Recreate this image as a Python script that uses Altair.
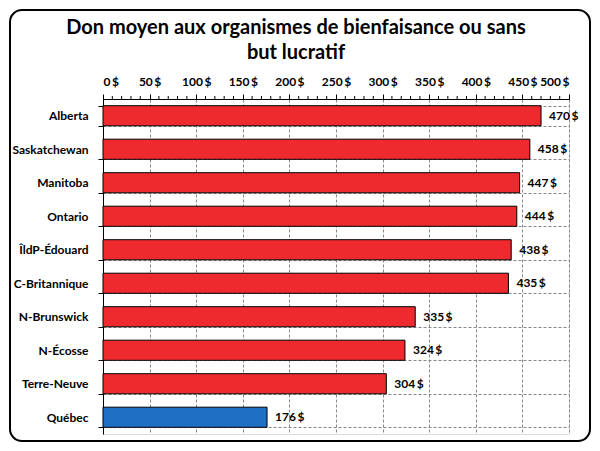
import altair as alt
import pandas as pd

provinces = ["Alberta", "Saskatchewan", "Manitoba", "Ontario", "ÎldP-Édouard",
             "C-Britannique", "N-Brunswick", "N-Écosse", "Terre-Neuve", "Québec"]
values = [470, 458, 447, 444, 438, 435, 335, 324, 304, 176]
highlight = ["other"] * 9 + ["qc"]
title_lines = ["Don moyen aux organismes de bienfaisance ou sans", "but lucratif"]

NS = "\u2009"
df = pd.DataFrame({"prov": provinces, "val": values, "grp": highlight,
                   "lab": [f"{v}{NS}$" for v in values]})

W, H = 466, 335
FONT = "Lato"

yenc = alt.Y("prov:N", sort=provinces, title=None,
             scale=alt.Scale(paddingInner=0.4, paddingOuter=0.2),
             axis=alt.Axis(tickBand="extent", labelFont=FONT, labelFontWeight="bold",
                           labelFontSize=12, labelColor="black", labelPadding=10,
                           tickSize=5, tickColor="black", domainColor="black",
                           gridDash=[3, 2], gridColor="#888888", grid=True))
xenc = alt.X("val:Q", title=None,
             scale=alt.Scale(domain=[0, 500], nice=False),
             axis=alt.Axis(orient="top", values=list(range(0, 501, 50)),
                           labelExpr="datum.value + '\u2009$'", labelFont=FONT,
                           labelFontWeight="bold", labelFontSize=12, labelColor="black",
                           labelPadding=6, tickSize=5, tickColor="black", labelOverlap=False,
                           domainColor="black", gridDash=[3, 2], gridColor="#888888"))

bars = alt.Chart(df).mark_bar(stroke="black", strokeWidth=1).encode(
    x=xenc, y=yenc,
    color=alt.Color("grp:N", scale=alt.Scale(domain=["other", "qc"],
                                              range=["#EE2A2E", "#1F6FC5"]), legend=None))

minor = alt.Chart(pd.DataFrame({"m": [v for v in range(0, 501, 10) if v % 50]})).mark_rule(
    color="black", strokeWidth=1).encode(
    x=alt.X("m:Q", scale=alt.Scale(domain=[0, 500])), y=alt.value(-3), y2=alt.value(0))

labels = alt.Chart(df).mark_text(align="left", dx=8, font=FONT, fontWeight="bold",
                                 fontSize=12, color="black").encode(
    x="val:Q", y=alt.Y("prov:N", sort=provinces), text="lab:N")

title_df = pd.DataFrame({"t": title_lines, "yy": [-71, -46]})
title = alt.Chart(title_df).mark_text(font=FONT, fontWeight="bold", fontSize=20,
                                      color="black", align="center", baseline="middle").encode(
    x=alt.value(193), y=alt.Y("yy:Q", scale=None), text="t:N")

border = alt.Chart(pd.DataFrame({"a": [0]})).mark_rect(
    fill="white", fillOpacity=0, stroke="black", strokeWidth=2, cornerRadius=12).encode(
    x=alt.value(-93), x2=alt.value(487), y=alt.value(-89), y2=alt.value(342))

chart = alt.layer(border, bars, minor, labels, title).properties(
    width=W, height=H,
    autosize=alt.AutoSizeParams(type="none"),
    padding={"left": 95, "top": 91, "right": 23, "bottom": 9},
).configure_view(stroke=None).configure(background="white")

chart.save("out.html", embed_options={"renderer": "svg", "actions": False})
